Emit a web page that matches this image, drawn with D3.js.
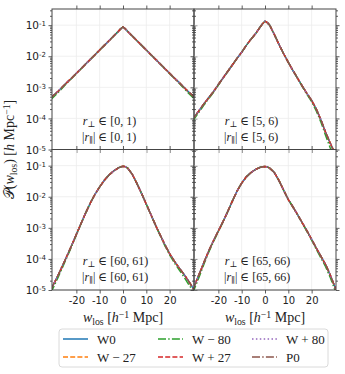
<!DOCTYPE html>
<html lang="en">
<head>
<meta charset="UTF-8">
<title>P(w_los)</title>
<script src="https://cdnjs.cloudflare.com/ajax/libs/d3/7.8.5/d3.min.js"></script>
<style>
  * { margin: 0; padding: 0; }
  body { background: #fff; }
  svg { display: block; }
  .tick text { font-family: "DejaVu Sans", sans-serif; }
  .serif { font-family: "Liberation Serif", "DejaVu Serif", serif; fill: #222; }
</style>
</head>
<body>
<div id="chart"></div>
<script>
// line-of-sight separation grid (h^-1 Mpc)
var wGrid = [-31,-28,-26,-24,-22,-20,-18,-16,-14,-12,-10,-8,-6,-4,-2,-1,0,1,2,4,6,8,10,12,14,16,18,20,22,24,26,28,31];

// log10 P(w_los), one array per panel
var logP_0_1 = [-3.34,-3.14,-2.99,-2.84,-2.70,-2.55,-2.40,-2.25,-2.10,-1.95,-1.80,-1.65,-1.50,-1.35,-1.20,-1.12,-1.06,-1.12,-1.20,-1.35,-1.50,-1.65,-1.80,-1.95,-2.10,-2.25,-2.40,-2.55,-2.70,-2.84,-2.99,-3.14,-3.34];
var logP_5_6 = [-4.03,-3.72,-3.51,-3.32,-3.13,-2.91,-2.70,-2.49,-2.28,-2.07,-1.87,-1.65,-1.45,-1.27,-1.05,-0.95,-0.87,-0.92,-1.00,-1.30,-1.62,-1.92,-2.20,-2.46,-2.71,-2.96,-3.20,-3.42,-3.70,-4.05,-4.45,-4.80,-5.30];
var logP_60_61 = [-5.00,-4.55,-4.23,-3.90,-3.56,-3.21,-2.86,-2.52,-2.20,-1.92,-1.68,-1.47,-1.30,-1.17,-1.07,-1.04,-1.02,-1.03,-1.08,-1.28,-1.58,-1.90,-2.24,-2.58,-2.92,-3.24,-3.55,-3.83,-4.07,-4.28,-4.48,-4.70,-5.05];
var logP_65_66 = [-5.00,-4.45,-4.08,-3.72,-3.40,-3.10,-2.80,-2.48,-2.14,-1.82,-1.56,-1.36,-1.22,-1.12,-1.05,-1.035,-1.03,-1.04,-1.08,-1.22,-1.48,-1.79,-2.09,-2.33,-2.58,-2.84,-3.10,-3.37,-3.65,-3.92,-4.18,-4.52,-5.10];

// W-80 runs a little low in the tails
var logP_0_1_w80 = [-3.40,-3.18,-3.02,-2.86,-2.71,-2.56,-2.40,-2.25,-2.10,-1.95,-1.80,-1.65,-1.50,-1.35,-1.20,-1.12,-1.06,-1.12,-1.20,-1.35,-1.50,-1.65,-1.80,-1.95,-2.10,-2.25,-2.40,-2.56,-2.71,-2.86,-3.02,-3.18,-3.40];
var logP_5_6_w80 = [-4.08,-3.77,-3.55,-3.35,-3.15,-2.93,-2.71,-2.49,-2.28,-2.07,-1.87,-1.65,-1.45,-1.27,-1.05,-0.95,-0.87,-0.92,-1.00,-1.30,-1.62,-1.92,-2.20,-2.46,-2.72,-2.98,-3.23,-3.46,-3.76,-4.12,-4.55,-4.95,-5.45];
var logP_60_61_w80 = [-5.10,-4.62,-4.28,-3.94,-3.59,-3.23,-2.87,-2.52,-2.20,-1.92,-1.68,-1.47,-1.30,-1.17,-1.07,-1.04,-1.02,-1.03,-1.08,-1.28,-1.58,-1.90,-2.24,-2.58,-2.93,-3.26,-3.58,-3.87,-4.12,-4.34,-4.56,-4.80,-5.15];
var logP_65_66_w80 = [-5.10,-4.53,-4.13,-3.76,-3.43,-3.12,-2.81,-2.48,-2.14,-1.82,-1.56,-1.36,-1.22,-1.12,-1.05,-1.035,-1.03,-1.04,-1.08,-1.22,-1.48,-1.79,-2.09,-2.33,-2.58,-2.85,-3.12,-3.40,-3.69,-3.97,-4.25,-4.60,-5.20];

var perpBins = ["[0, 1)", "[5, 6)", "[60, 61)", "[65, 66)"];
var panelBase = [logP_0_1, logP_5_6, logP_60_61, logP_65_66];
var panelW80 = [logP_0_1_w80, logP_5_6_w80, logP_60_61_w80, logP_65_66_w80];

var seriesNames = ["W0", "W − 27", "W − 80", "W + 27", "W + 80", "P0"];
var seriesColors = ["#1f77b4", "#ff7f0e", "#2ca02c", "#d62728", "#9467bd", "#8c564b"];
var seriesDash = [null, "5,2.2", "8,2.2,1.5,2.2", "5,2.2", "1.5,2.4", "8,2.2,1.5,2.2"];

var xTicks = [-20, -10, 0, 10, 20];
var yTicks = [1e-5, 1e-4, 1e-3, 1e-2, 1e-1];
var yExp = ["-5", "-4", "-3", "-2", "-1"];

var W = 345, H = 374;
var padL = 52, colW = 142, padT = 9, rowH = 140.5;

var svg = d3.select("#chart").append("svg")
    .attr("width", W).attr("height", H);

var x = d3.scaleLinear().domain([-30.45, 30.45]).range([0, colW]);
var y = d3.scaleLog().domain([1e-5, Math.pow(10, -0.48)]).range([rowH, 0]);

var yMinor = [];
yTicks.forEach(function(d) {
    for (var k = 2; k <= 9; k++) if (d * k < y.domain()[1]) yMinor.push(d * k);
});

var line = d3.line()
    .x(function(d) { return x(d[0]); })
    .y(function(d) { return y(Math.pow(10, d[1])); });

function mathText(sel, parts, size) {
    // parts: [text, style] ; style: "i" italic, "sub", "sup"
    parts.forEach(function(p) {
        var t = sel.append("tspan").text(p[0]);
        if (p[1] === "i") t.attr("font-style", "italic");
        if (p[1] === "sub") t.attr("font-size", size * 0.7).attr("baseline-shift", "-25%");
        if (p[1] === "sup") t.attr("font-size", size * 0.7).attr("baseline-shift", "45%");
    });
}

panelBase.forEach(function(base, i) {
    var col = i % 2, row = Math.floor(i / 2);
    var g = svg.append("g")
        .attr("transform", "translate(" + (padL + col * colW) + "," + (padT + row * rowH) + ")");

    // grid
    g.append("g").selectAll("line").data(xTicks).enter().append("line")
        .attr("x1", x).attr("x2", x).attr("y1", 0).attr("y2", rowH)
        .attr("stroke", "#ececec").attr("stroke-width", 0.8);
    g.append("g").selectAll("line").data(yTicks).enter().append("line")
        .attr("y1", y).attr("y2", y).attr("x1", 0).attr("x2", colW)
        .attr("stroke", "#ececec").attr("stroke-width", 0.8);

    // curves
    g.append("clipPath").attr("id", "clip" + i)
        .append("rect").attr("width", colW).attr("height", rowH);
    var cg = g.append("g").attr("clip-path", "url(#clip" + i + ")");
    seriesNames.forEach(function(name, s) {
        var vals = s === 2 ? panelW80[i] : base;
        var pts = wGrid.map(function(w, j) { return [w, vals[j]]; });
        cg.append("path")
            .datum(pts)
            .attr("d", line)
            .attr("fill", "none")
            .attr("stroke", seriesColors[s])
            .attr("stroke-width", 1.5)
            .attr("stroke-dasharray", seriesDash[s]);
    });

    // axes on all four sides, ticks outward
    var axB = g.append("g").attr("transform", "translate(0," + rowH + ")")
        .call(d3.axisBottom(x).tickValues(xTicks).tickSize(3.5).tickPadding(3)
            .tickFormat(row === 1 ? function(d) { return d; } : ""));
    g.append("g").call(d3.axisTop(x).tickValues(xTicks).tickSize(3.5).tickFormat(""));
    var axL = g.append("g").call(d3.axisLeft(y).tickValues(yTicks).tickSize(3.5).tickPadding(3).tickFormat(""));
    g.append("g").call(d3.axisLeft(y).tickValues(yMinor).tickSize(2).tickFormat(""));
    g.append("g").attr("transform", "translate(" + colW + ",0)")
        .call(d3.axisRight(y).tickValues(yTicks).tickSize(3.5).tickFormat(""));
    g.append("g").attr("transform", "translate(" + colW + ",0)")
        .call(d3.axisRight(y).tickValues(yMinor).tickSize(2).tickFormat(""));

    g.selectAll(".domain").remove();
    g.selectAll(".tick line").attr("stroke", "#333").attr("stroke-width", 0.8);
    axB.selectAll(".tick text").attr("font-size", 10).attr("fill", "#222");

    if (col === 0) {
        axL.selectAll(".tick").each(function(d, k) {
            var t = d3.select(this).append("text")
                .attr("x", -6).attr("dy", "0.35em")
                .attr("text-anchor", "end")
                .attr("font-family", "DejaVu Sans, sans-serif")
                .attr("font-size", 10.5).attr("fill", "#222");
            t.append("tspan").text("10");
            t.append("tspan").text(yExp[k]).attr("font-size", 7).attr("baseline-shift", "50%");
        });
    }

    // frame
    g.append("rect").attr("width", colW).attr("height", rowH)
        .attr("fill", "none").attr("stroke", "#444").attr("stroke-width", 1);

    // bin annotation: two lines, right aligned within a box anchored left
    var fs = 12;
    var l2 = g.append("text").attr("class", "serif").attr("font-size", fs)
        .attr("x", 30).attr("y", rowH - 9);
    mathText(l2, [["|", ""], ["r", "i"], ["∥", "sub"], ["| ∈ " + perpBins[i], ""]], fs);
    var w2 = l2.node().getComputedTextLength();
    var l1 = g.append("text").attr("class", "serif").attr("font-size", fs)
        .attr("x", 30 + w2).attr("y", rowH - 25).attr("text-anchor", "end");
    mathText(l1, [["r", "i"], ["⊥", "sub"], [" ∈ " + perpBins[i], ""]], fs);
});

// axis labels
[0, 1].forEach(function(col) {
    var t = svg.append("text").attr("class", "serif").attr("font-size", 14)
        .attr("x", padL + col * colW + colW / 2).attr("y", 322)
        .attr("text-anchor", "middle");
    mathText(t, [["w", "i"], ["los", "sub"], [" [", ""], ["h", "i"], ["−1", "sup"], [" Mpc]", ""]], 14);
});

var yl = svg.append("text").attr("class", "serif").attr("font-size", 14)
    .attr("transform", "translate(14," + (padT + rowH) + ") rotate(-90)")
    .attr("text-anchor", "middle");
mathText(yl, [["𝒫(", ""], ["w", "i"], ["los", "sub"], [") [", ""], ["h", "i"], [" Mpc", ""], ["−1", "sup"], ["]", ""]], 14);

// legend
var lg = svg.append("g").attr("transform", "translate(59,329)");
lg.append("rect").attr("width", 269).attr("height", 38).attr("rx", 3)
    .attr("fill", "#fff").attr("stroke", "#d0d0d0").attr("stroke-width", 0.8);
var colX = [4, 99, 193];
seriesNames.forEach(function(name, s) {
    var cx = colX[Math.floor(s / 2)], cy = s % 2 === 0 ? 10 : 28;
    lg.append("line").attr("x1", cx).attr("x2", cx + 25).attr("y1", cy).attr("y2", cy)
        .attr("stroke", seriesColors[s]).attr("stroke-width", 1.5)
        .attr("stroke-dasharray", seriesDash[s]);
    lg.append("text").attr("class", "serif").attr("font-size", 13)
        .attr("x", cx + 34).attr("y", cy + 4.5).text(name);
});
</script>
</body>
</html>
